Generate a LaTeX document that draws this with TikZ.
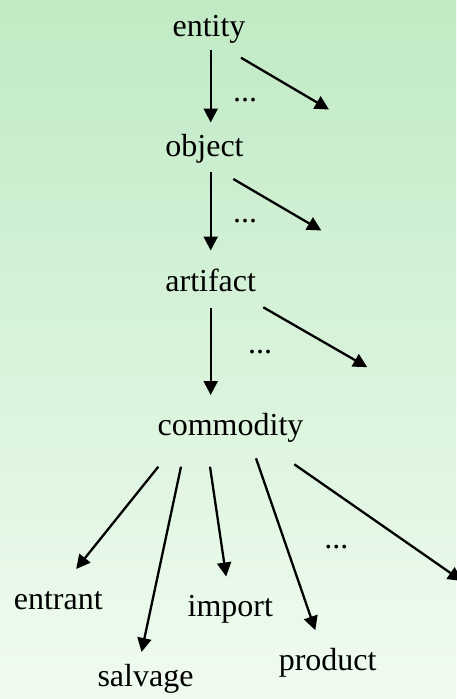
\documentclass[tikz,border=0pt]{standalone}
\usepackage{fontspec}
\setmainfont{Liberation Serif}
\usetikzlibrary{arrows.meta}
\definecolor{bgtop}{RGB}{192,234,196}
\definecolor{bgbot}{RGB}{240,251,240}
\begin{document}
\begin{tikzpicture}[x=1pt,y=-1pt,
  lbl/.style={anchor=base,inner sep=0pt,font=\fontsize{32}{38}\selectfont},
  arr/.style={line width=2.3pt,-{Triangle[length=14pt,width=14pt]}}]
\useasboundingbox (0,0) rectangle (456,699);
\shade[top color=bgtop,bottom color=bgbot] (0,0) rectangle (456,699);
% labels
\node[lbl] (entity) at (209,36) {entity};
\node[lbl] (object) at (204.5,156) {object};
\node[lbl] (artifact) at (210.7,291.7) {artifact};
\node[lbl] (commodity) at (230.5,435) {commodity};
\node[lbl] (entrant) at (58.3,609.3) {entrant};
\node[lbl] (salvage) at (145.5,686) {salvage};
\node[lbl] (import) at (230.3,616) {import};
\node[lbl] (product) at (327.7,670) {product};
\node[lbl] (d1) at (245,101.7) {...};
\node[lbl] (d2) at (245,222.7) {...};
\node[lbl] (d3) at (260,353) {...};
\node[lbl] (d4) at (336.3,548) {...};
% connector end points
\coordinate (e1) at (210.7,50);   \coordinate (o1) at (210.7,122.5);
\coordinate (e2) at (241,57.7);   \coordinate (x1) at (329,109.5);
\coordinate (o2) at (210.7,171.7); \coordinate (a1) at (210.7,250.5);
\coordinate (o3) at (233.3,179);  \coordinate (x2) at (321.3,230.5);
\coordinate (a2) at (210.7,307.7); \coordinate (c1) at (210.7,395);
\coordinate (a3) at (263.3,307.3); \coordinate (x3) at (367.3,367.2);
\coordinate (c2) at (158.3,466.7); \coordinate (en) at (76.2,569);
\coordinate (c3) at (181,466.7);   \coordinate (sa) at (141.5,652);
\coordinate (c4) at (210,466.7);   \coordinate (im) at (226.2,576.5);
\coordinate (c5) at (256,458.3);   \coordinate (pr) at (315.3,630.2);
\coordinate (c6) at (294.3,464.3); \coordinate (x4) at (462,581);
% connectors
\draw[arr] (e1) -- (o1);
\draw[arr] (e2) -- (x1);
\draw[arr] (o2) -- (a1);
\draw[arr] (o3) -- (x2);
\draw[arr] (a2) -- (c1);
\draw[arr] (a3) -- (x3);
\draw[arr] (c2) -- (en);
\draw[arr] (c3) -- (sa);
\draw[arr] (c4) -- (im);
\draw[arr] (c5) -- (pr);
\draw[arr] (c6) -- (x4);
\end{tikzpicture}
\end{document}
